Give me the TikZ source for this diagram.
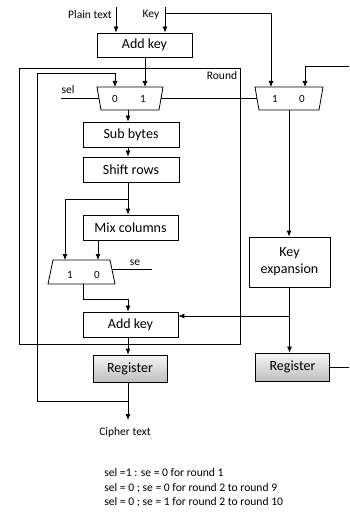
\documentclass[tikz,border=0pt]{standalone}
\usepackage{fontspec}
\setmainfont{Carlito}
\usetikzlibrary{arrows.meta}
\begin{document}
\begin{tikzpicture}[x=1pt,y=-1pt,
  line width=0.8pt,
  arr/.style={-{Latex[length=6pt,width=5pt]}},
  blk/.style={draw, rectangle, inner sep=0pt, align=center, font=\fontsize{14}{17}\selectfont},
  regbox/.style={blk, top color=gray!8, bottom color=gray!50, minimum width=74pt, minimum height=27pt},
  muxshape/.style={draw, line join=miter},
  lbl/.style={font=\fontsize{11.5}{13}\selectfont, inner sep=0pt},
  sm/.style={font=\fontsize{11}{13}\selectfont, inner sep=0pt},
]
\useasboundingbox (0,0) rectangle (349,513);

% Round frame
\node[draw, inner sep=0pt, minimum width=221pt, minimum height=276pt] (round) at (129.5,206) {};
\node[lbl] (roundlbl) at (222,76) {Round};

% boxes
\node[blk, minimum width=95pt, minimum height=24pt] (addkey1) at (144.5,45) {Add key};
\node[blk, minimum width=96pt, minimum height=25pt] (subbytes) at (131,134.5) {Sub bytes};
\node[blk, minimum width=96pt, minimum height=25pt] (shiftrows) at (131,169.5) {Shift rows};
\node[blk, minimum width=95pt, minimum height=25pt] (mixcol) at (130.5,227.5) {Mix columns};
\node[blk, minimum width=95pt, minimum height=25pt] (addkey2) at (130.5,324.5) {Add key};
\node[blk, minimum width=81pt, minimum height=50pt] (keyexp) at (289.5,262) {Key\\expansion};
\node[regbox] (reg1) at (130,368.5) {Register};
\node[regbox, minimum height=28pt] (reg2) at (292.5,367) {Register};

% multiplexers (drawn directly)
\draw[muxshape] (97,87) -- (163,87) -- (159,110) -- (101,110) -- cycle;
\draw[muxshape] (255,87) -- (323,87) -- (319,110) -- (259,110) -- cycle;
\draw[muxshape] (53,260) -- (110,260) -- (115,284) -- (48,284) -- cycle;
\coordinate (mux1w) at (99,98.5);
\coordinate (mux1e) at (161,98.5);
\coordinate (mux1s) at (128,110);
\coordinate (mux2w) at (257,98.5);
\coordinate (mux2s) at (289,110);
\coordinate (mux3e) at (111.5,269);
\coordinate (mux3s) at (83,284);

\node[sm] (m1l0) at (115,99) {0};
\node[sm] (m1l1) at (143,99) {1};
\node[sm] (m2l1) at (275,99) {1};
\node[sm] (m2l0) at (302,99) {0};
\node[sm] (m3l1) at (70,275) {1};
\node[sm] (m3l0) at (97,275) {0};

% labels
\node[lbl] (pt) at (90,15) {Plain text};
\node[lbl] (key) at (151,15) {Key};
\node[lbl] (sel) at (68,90) {sel};
\node[lbl] (se) at (135,263) {se};
\node[lbl] (cipher) at (125,432) {Cipher text};
\node[lbl, align=left, anchor=north west, font=\fontsize{11.6}{14.5}\selectfont] (notes) at (104,468.5)
 {sel =1 : se = 0 for round 1\\
  sel = 0 ; se = 0 for round 2 to round 9\\
  sel = 0 ; se = 1 for round 2 to round 10};

% coordinates
\coordinate (ptin) at (116,7);
\coordinate (keyin) at (165,7);
\coordinate (keybr) at (165,13);
\coordinate (m1in0) at (115,87);
\coordinate (m1in1) at (145,87);
\coordinate (m2in1) at (271,87);
\coordinate (m2in0) at (305,87);
\coordinate (kfb) at (349,66);
\coordinate (selin) at (61,98.5);
\coordinate (seout) at (152,269);
\coordinate (srbr) at (128,199);
\coordinate (m3in1) at (65,260);
\coordinate (m3in0) at (98,260);
\coordinate (m3bend) at (128,299);
\coordinate (kebr) at (289,316);
\coordinate (fbbr) at (128,401);
\coordinate (fbtop) at (37,73);
\coordinate (r2out) at (349,367);
\coordinate (ciph) at (128,420);

% connectors
\draw[arr] (ptin) -- (ptin |- addkey1.north);
\draw[arr] (keyin) -- (keyin |- addkey1.north);
\draw[arr] (keybr) -| (m2in1);
\draw[arr] (addkey1.south -| m1in1) -- (m1in1);
\draw[arr] (fbbr) -| (fbtop) -| (m1in0);
\draw (selin) -- (mux1w);
\draw (mux1e) -- (mux2w);
\draw[arr] (kfb) -| (m2in0);
\draw[arr] (mux1s) -- (srbr |- subbytes.north);
\draw[arr] (srbr |- subbytes.south) -- (srbr |- shiftrows.north);
\draw[arr] (srbr |- shiftrows.south) -- (srbr |- mixcol.north);
\draw[arr] (srbr) -| (m3in1);
\draw[arr] (mixcol.south -| m3in0) -- (m3in0);
\draw (mux3e) -- (seout);
\draw[arr] (mux3s) |- (m3bend) -- (m3bend |- addkey2.north);
\draw[arr] (mux2s) -- (mux2s |- keyexp.north);
\draw[arr] (keyexp.south) -- (keyexp.south |- reg2.north);
\draw[arr] (kebr) -- (kebr -| addkey2.east);
\draw[arr] (addkey2.south -| srbr) -- (srbr |- reg1.north);
\draw[arr] (reg1.south -| srbr) -- (ciph);
\draw (reg2.east) -- (r2out);
\end{tikzpicture}
\end{document}
